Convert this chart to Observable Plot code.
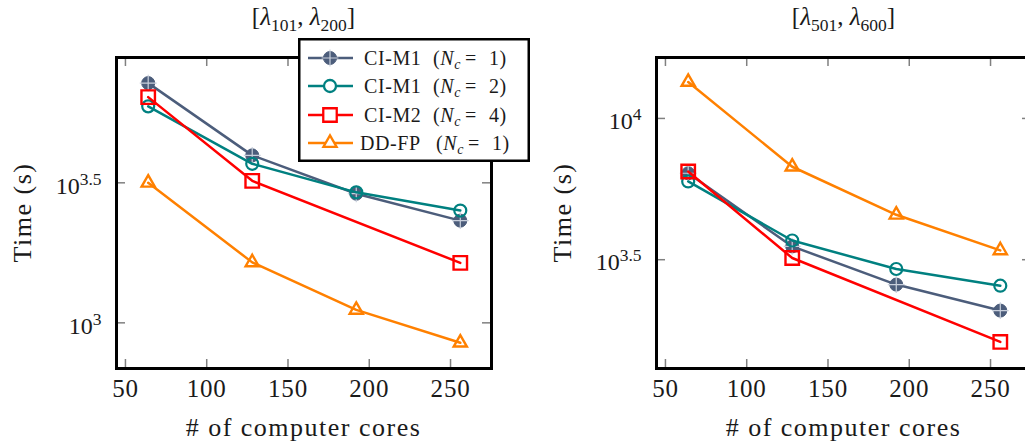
<!DOCTYPE html>
<html>
<head>
<meta charset="utf-8">
<script src="https://cdn.jsdelivr.net/npm/d3@7"></script>
<script src="https://cdn.jsdelivr.net/npm/@observablehq/plot@0.6"></script>
<style>
  html, body { margin: 0; padding: 0; background: #fff; }
  #wrap { position: relative; width: 1025px; height: 448px; overflow: hidden; background: #fff; font-family: 'Liberation Serif', serif; }
  #wrap svg { position: absolute; top: 0; }
</style>
</head>
<body>
<div id="wrap"></div>
<script>
// ---------- data (seconds) ----------
const cores = [64, 128, 192, 256];
const coresM2 = [64, 128, 256];
const xTicks = [50, 100, 150, 200, 250];

const seriesNames = ["CI-M1 (Nc = 1)", "CI-M1 (Nc = 2)", "CI-M2 (Nc = 4)", "DD-FP (Nc = 1)"];
const seriesLabels = ["CI-M1", "CI-M1", "CI-M2", "DD-FP"];
const seriesNc = ["1", "2", "4", "1"];
const seriesColors = ["#4c5d7b", "#008080", "#ff0000", "#ff8000"];

// panel 1: [λ101, λ200]
const leftM1n1 = [7178, 3963, 2891, 2317];
const leftM1n2 = [5929, 3698, 2924, 2518];
const leftM2n4 = [6397, 3214, 1637];
const leftDD   = [3162, 1644, 1112, 849];
const leftYDomain = [687, 8861];
const leftYTicks = [1000, 3162.28];

// panel 2: [λ501, λ600]
const rightM1n1 = [6397, 3524, 2582, 2089];
const rightM1n2 = [5984, 3698, 2931, 2559];
const rightM2n4 = [6486, 3206, 1618];
const rightDD   = [13459, 6745, 4560, 3412];
const rightYDomain = [1303, 16431];
const rightYTicks = [3162.28, 10000];

const xDomain = [44.5, 275.2];

// ---------- helpers ----------
function rows(xs, ys) { return xs.map((x, i) => ({cores: x, time: ys[i]})); }

const FONT = "'Liberation Serif', serif";
const tickColor = "#808080";
const ink = "#1a1a1a";

function markerMarks(idx, data) {
  const c = seriesColors[idx];
  const o = {x: "cores", y: "time"};
  if (idx === 0) return [
    Plot.dot(data, {...o, r: 6.5, fill: c, stroke: c, strokeWidth: 1}),
    Plot.dot(data, {...o, symbol: "plus", r: 5.5, stroke: "#c9d0dc", strokeWidth: 1.2})
  ];
  if (idx === 1) return [Plot.dot(data, {...o, r: 6, fill: "none", stroke: c, strokeWidth: 2.2})];
  if (idx === 2) return [Plot.dot(data, {...o, symbol: "square", r: 7.6, fill: "none", stroke: c, strokeWidth: 2.4})];
  return [Plot.dot(data, {...o, symbol: "triangle", r: 4.9, fill: "none", stroke: c, strokeWidth: 2.4})];
}

function addRich(textSel, parts, subShift) {
  let cur = 0;
  for (const p of parts) {
    const ts = textSel.append("tspan").text(p.t);
    if (p.it) ts.attr("font-style", "italic");
    if (p.x != null) ts.attr("x", p.x);
    const want = p.sub ? subShift : (p.sup ? -subShift : 0);
    if (want !== cur) { ts.attr("dy", want - cur); cur = want; }
    if (p.sub || p.sup) ts.attr("font-size", "0.7em");
  }
}

function panel(seriesData, yDomain, yTicks, titleParts, left) {
  const W = 510, H = 448, mL = 116, mR = 19, mT = 57, mB = 80;
  const iw = W - mL - mR, ih = H - mT - mB;
  const marks = [
    Plot.tickX(xTicks, {x: d => d, stroke: tickColor, strokeWidth: 1.5, insetTop: ih - 9}),
    Plot.tickX(xTicks, {x: d => d, stroke: tickColor, strokeWidth: 1.5, insetBottom: ih - 9}),
    Plot.tickY(yTicks, {y: d => d, stroke: tickColor, strokeWidth: 1.5, insetRight: iw - 9}),
    Plot.tickY(yTicks, {y: d => d, stroke: tickColor, strokeWidth: 1.5, insetLeft: iw - 9})
  ];
  seriesData.forEach((d, i) => {
    marks.push(Plot.line(d, {x: "cores", y: "time", stroke: seriesColors[i], strokeWidth: 2.5}));
    marks.push(...markerMarks(i, d));
  });
  marks.push(Plot.frame({stroke: "black", strokeWidth: 3}));
  marks.push(Plot.axisX(xTicks, {tickSize: 0, tickPadding: 11, fontSize: 25, fill: ink, label: null}));
  marks.push(Plot.axisY(yTicks, {tickSize: 0, tickPadding: 15, fontSize: 24, fill: ink, dy: 3, label: null,
    tickFormat: d => String(Math.round(Math.log10(d) * 10) / 10)}));

  const svg = Plot.plot({
    width: W, height: H,
    marginLeft: mL, marginRight: mR, marginTop: mT, marginBottom: mB,
    x: {domain: xDomain, label: null},
    y: {type: "log", domain: yDomain, label: null},
    style: "font-family: 'Liberation Serif', serif; font-size: 25px; background: transparent; overflow: visible; color: #1a1a1a;",
    marks
  });
  svg.style.left = left + "px";
  svg.style.position = "absolute";
  svg.style.top = "0px";

  // superscript exponents on y tick labels
  svg.querySelectorAll('g[aria-label="y-axis tick label"] text').forEach(t => {
    const e = t.textContent;
    t.textContent = "10";
    const ts = document.createElementNS("http://www.w3.org/2000/svg", "tspan");
    ts.setAttribute("dy", "-9");
    ts.setAttribute("font-size", "17.5");
    ts.textContent = e;
    t.appendChild(ts);
  });
  svg.querySelectorAll('g[aria-label="x-axis tick label"] text').forEach(t => {
    t.setAttribute("letter-spacing", "0.8");
  });

  const s = d3.select(svg);
  const cx = mL + iw / 2;
  // title
  const title = s.append("text").attr("x", cx).attr("y", 25).attr("text-anchor", "middle")
    .attr("font-size", 25).attr("fill", ink).attr("font-family", FONT);
  addRich(title, titleParts, 6);
  // x label
  s.append("text").attr("x", cx).attr("y", 436).attr("text-anchor", "middle")
    .attr("font-size", 26).attr("letter-spacing", 1.5).attr("fill", ink).attr("font-family", FONT)
    .text("# of computer cores");
  // y label
  s.append("text").attr("transform", `translate(31,${mT + ih / 2}) rotate(-90)`)
    .attr("text-anchor", "middle").attr("font-size", 26).attr("letter-spacing", 1.5)
    .attr("fill", ink).attr("font-family", FONT).text("Time (s)");
  return svg;
}

const wrap = document.getElementById("wrap");

wrap.appendChild(panel(
  [rows(cores, leftM1n1), rows(cores, leftM1n2), rows(coresM2, leftM2n4), rows(cores, leftDD)],
  leftYDomain, leftYTicks,
  [{t: "["}, {t: "λ", it: true}, {t: "101", sub: true}, {t: ", "}, {t: "λ", it: true}, {t: "200", sub: true}, {t: "]"}],
  0));

wrap.appendChild(panel(
  [rows(cores, rightM1n1), rows(cores, rightM1n2), rows(coresM2, rightM2n4), rows(cores, rightDD)],
  rightYDomain, rightYTicks,
  [{t: "["}, {t: "λ", it: true}, {t: "501", sub: true}, {t: ", "}, {t: "λ", it: true}, {t: "600", sub: true}, {t: "]"}],
  540));

// ---------- legend ----------
(function legend() {
  const LW = 232, LH = 124;
  const svg = d3.select(wrap).append("svg")
    .attr("width", LW).attr("height", LH)
    .style("left", "298px").style("top", "38px").style("position", "absolute")
    .style("font-family", FONT);
  svg.append("rect").attr("x", 1.25).attr("y", 1.25).attr("width", LW - 2.5).attr("height", LH - 2.5)
    .attr("fill", "#fff").attr("stroke", "#000").attr("stroke-width", 2.5);
  const rowY = [20, 48, 77, 105];
  const sym = [d3.symbolCircle, d3.symbolCircle, d3.symbolSquare, d3.symbolTriangle];
  const rr = [6.5, 6, 7.6, 4.9];
  seriesNames.forEach((name, i) => {
    const g = svg.append("g").attr("transform", `translate(0,${rowY[i]})`);
    const c = seriesColors[i];
    g.append("line").attr("x1", 10).attr("x2", 55).attr("stroke", c).attr("stroke-width", 2.5);
    const p = d3.symbol(sym[i], Math.PI * rr[i] * rr[i])();
    g.append("path").attr("transform", "translate(32,0)").attr("d", p)
      .attr("fill", i === 0 ? c : "#fff").attr("stroke", c).attr("stroke-width", i === 0 ? 1 : 2.3);
    if (i === 0) g.append("path").attr("transform", "translate(32,0)")
      .attr("d", d3.symbol(d3.symbolPlus, Math.PI * 5.5 * 5.5)()).attr("fill", "none")
      .attr("stroke", "#c9d0dc").attr("stroke-width", 1.2);
    const dd = i === 3 ? 3 : 0;
    const t = g.append("text").attr("x", i === 3 ? 62 : 66).attr("y", 7).attr("font-size", 20)
      .attr("fill", ink).attr("letter-spacing", 0.6);
    addRich(t, [
      {t: seriesLabels[i]},
      {t: "(", x: 135 + dd}, {t: "N", it: true}, {t: "c", it: true, sub: true},
      {t: "=", x: 167 + dd}, {t: seriesNc[i], x: 191 + dd}, {t: ")"}
    ], 4);
  });
})();
</script>
</body>
</html>
